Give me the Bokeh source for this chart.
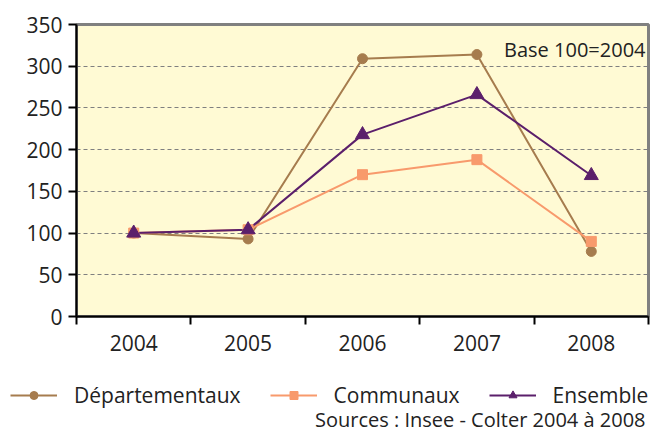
from bokeh.plotting import figure
from bokeh.models import (Range1d, FixedTicker, Legend, LegendItem, Label)
from bokeh.embed import file_html
from bokeh.resources import INLINE

years = [2004, 2005, 2006, 2007, 2008]
departementaux = [100, 93, 309, 314, 78]
communaux = [100, 104, 170, 188, 90]
ensemble = [100, 104, 218, 266, 169]
y_ticks = [0, 50, 100, 150, 200, 250, 300, 350]
series = [("Départementaux", departementaux, "circle", 10, "#A67C4E"),
          ("Communaux", communaux, "square", 10, "#F89A6C"),
          ("Ensemble", ensemble, "triangle", 14, "#5B1F6B")]

FONT = "Open Sans"
TXT = "#222222"

p = figure(width=650, height=364, output_backend="svg", toolbar_location=None,
           x_range=Range1d(years[0] - 0.5, years[-1] + 0.5),
           y_range=Range1d(0, 350),
           min_border_left=76, min_border_right=2, min_border_top=24,
           min_border_bottom=48)
p.background_fill_color = "#FFFAD4"
p.border_fill_color = "white"
p.outline_line_color = "#808080"
p.outline_line_width = 3

# x axis: labels at category centres, tick marks at category boundaries
bounds = [years[0] - 0.5 + i for i in range(len(years) + 1)]
p.xaxis.ticker = FixedTicker(ticks=years, minor_ticks=bounds)
p.xaxis.major_tick_line_color = None
p.xaxis.major_tick_out = 8
p.xaxis.minor_tick_out = 8
p.xaxis.minor_tick_in = 0
p.xaxis.minor_tick_line_color = "black"
p.xaxis.minor_tick_line_width = 2
p.xaxis.axis_line_color = "black"
p.xaxis.axis_line_width = 2
p.xaxis.major_label_text_font = FONT
p.xaxis.major_label_text_font_size = "21px"
p.xaxis.major_label_text_color = TXT
p.xaxis.major_label_standoff = 10

p.yaxis.ticker = FixedTicker(ticks=y_ticks)
p.yaxis.minor_tick_line_color = None
p.yaxis.major_tick_out = 8
p.yaxis.major_tick_in = 0
p.yaxis.major_tick_line_color = "black"
p.yaxis.major_tick_line_width = 2
p.yaxis.axis_line_color = "black"
p.yaxis.axis_line_width = 2
p.yaxis.major_label_text_font = FONT
p.yaxis.major_label_text_font_size = "21px"
p.yaxis.major_label_text_color = TXT
p.yaxis.major_label_standoff = 6

p.xgrid.grid_line_color = None
p.ygrid.grid_line_color = "#7F7F7F"
p.ygrid.grid_line_dash = "4 3"
p.ygrid.grid_line_width = 1

for name, vals, marker, size, color in series:
    p.line(years, vals, line_color=color, line_width=2)
for name, vals, marker, size, color in series:
    p.scatter(years, vals, marker=marker, size=size, color=color)

p.add_layout(Label(x=569, y=267, x_units="screen", y_units="screen",
                   text="Base 100=2004", text_align="right",
                   text_baseline="alphabetic", text_font=FONT,
                   text_font_size="20px", text_color=TXT))

# bottom strip: legend + source note
q = figure(width=650, height=68, output_backend="svg", toolbar_location=None,
           x_range=Range1d(0, 1), y_range=Range1d(0, 1),
           x_axis_location=None, y_axis_location=None,
           min_border_left=0, min_border_right=0, min_border_top=0,
           min_border_bottom=0)
q.outline_line_color = None
q.grid.grid_line_color = None
q.background_fill_color = "white"
q.border_fill_color = "white"

items = []
for name, vals, marker, size, color in series:
    # same series (outside this strip's ranges) so the legend samples match
    rl = q.line(years, vals, line_color=color, line_width=2)
    rm = q.scatter(years, vals, marker=marker, size=size, color=color)
    items.append(LegendItem(label=name, renderers=[rl, rm]))

legend = Legend(items=items, orientation="horizontal", location=(10, 23))
legend.background_fill_alpha = 0
legend.border_line_color = None
legend.padding = 0
legend.margin = 0
legend.spacing = 29
legend.glyph_width = 47
legend.glyph_height = 20
legend.label_height = 20
legend.label_standoff = 17
legend.label_text_font = FONT
legend.label_text_font_size = "21px"
legend.label_text_color = TXT
q.add_layout(legend, "center")

q.add_layout(Label(x=645, y=13, x_units="screen", y_units="screen",
                   text="Sources : Insee - Colter 2004 à 2008", text_align="right",
                   text_baseline="alphabetic", text_font=FONT,
                   text_font_size="20px", text_color=TXT))

open("out.html", "w").write(file_html([p, q], INLINE))
